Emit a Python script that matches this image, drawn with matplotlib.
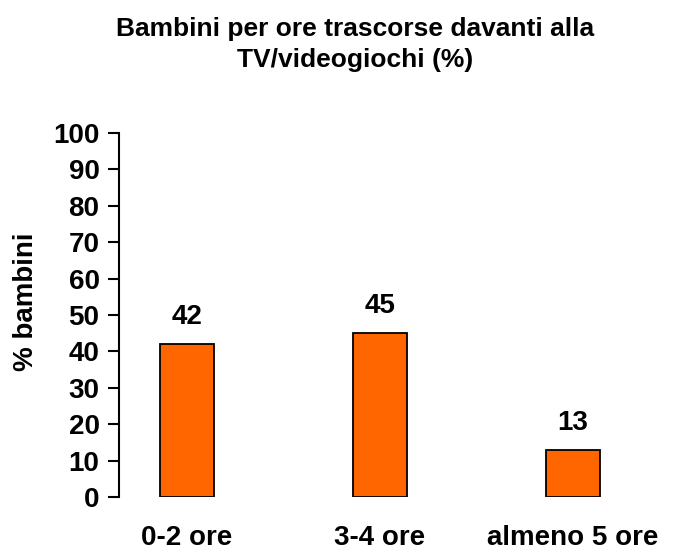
import matplotlib.pyplot as plt

categorie = ['0-2 ore', '3-4 ore', 'almeno 5 ore']
valori = [42, 45, 13]
y_ticks = [0, 10, 20, 30, 40, 50, 60, 70, 80, 90, 100]

plt.rcParams['font.family'] = ['Liberation Sans', 'DejaVu Sans']
plt.rcParams['font.weight'] = 'bold'

fig = plt.figure(figsize=(6.93, 5.51), dpi=100)
ax = fig.add_axes([0.1717, 0.098, 0.75, 0.6606])

x = range(len(categorie))
ax.bar(x, valori, width=0.28, color='#ff6600', edgecolor='black', linewidth=1.3)
for i, v in zip(x, valori):
    ax.annotate(str(v), (i, v), xytext=(0, 10), textcoords='offset points',
                ha='center', va='bottom', fontsize=20, fontweight='bold')

ax.set_xlim(-0.352, 2.341)
ax.set_ylim(0, 100)
ax.set_yticks(y_ticks)
ax.set_xticks(list(x))
ax.set_xticklabels(categorie)
ax.tick_params(axis='y', labelsize=20, width=1.5, length=8, direction='out', pad=6)
ax.tick_params(axis='x', labelsize=20, length=0, pad=20)
for s in ['top', 'right', 'bottom']:
    ax.spines[s].set_visible(False)
ax.spines['left'].set_linewidth(1.5)

ax.set_ylabel('% bambini', fontsize=20, fontweight='bold')
ax.yaxis.set_label_coords(-0.154, 0.536)
fig.suptitle('Bambini per ore trascorse davanti alla\nTV/videogiochi (%)',
             x=0.512, y=0.969, fontsize=19, fontweight='bold', linespacing=1.35)

fig.savefig('out.png', dpi=100)
